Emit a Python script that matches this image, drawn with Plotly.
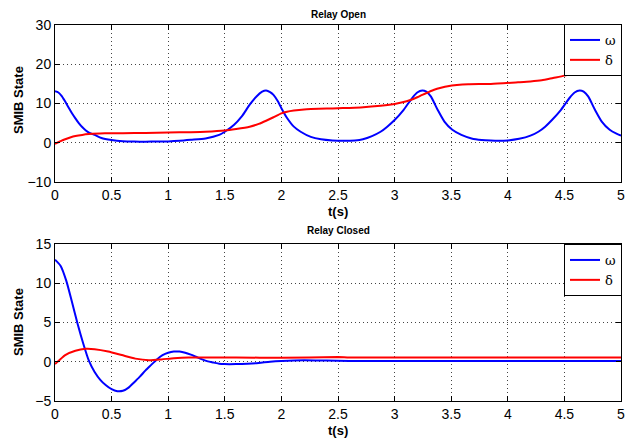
import plotly.graph_objects as go

# ---------------- data ----------------
# Relay Open : omega
t_open_w = [0, 0.03, 0.06, 0.09, 0.12, 0.15, 0.18, 0.21, 0.24, 0.27, 0.3, 0.35, 0.41, 0.5, 0.6, 0.7,
            0.8, 0.9, 1.0, 1.1, 1.2, 1.33, 1.45, 1.5, 1.58, 1.65, 1.72, 1.78, 1.83, 1.865, 1.9, 1.93,
            1.97, 2.0, 2.05, 2.11, 2.17, 2.26, 2.35, 2.45, 2.55, 2.65, 2.72, 2.8, 2.876, 2.935, 3.0,
            3.08, 3.155, 3.2, 3.245, 3.28, 3.32, 3.38, 3.44, 3.51, 3.59, 3.68, 3.77, 3.85, 3.92, 4.0,
            4.1, 4.2, 4.27, 4.33, 4.39, 4.47, 4.545, 4.59, 4.635, 4.67, 4.71, 4.77, 4.83, 4.9, 4.96, 5.0]
w_open = [13.1, 12.8, 11.9, 10.5, 9.0, 7.5, 6.2, 5.0, 4.0, 3.2, 2.6, 2.0, 1.2, 0.7, 0.4, 0.3,
          0.28, 0.3, 0.35, 0.5, 0.75, 1.1, 2.0, 2.8, 4.5, 6.7, 9.7, 11.8, 13.0, 13.3, 12.9, 12.2,
          10.5, 8.8, 6.3, 4.1, 2.8, 1.5, 0.9, 0.6, 0.5, 0.6, 0.9, 1.7, 2.8, 4.1, 5.8,
          8.4, 11.4, 12.8, 13.3, 13.0, 11.8, 8.4, 5.4, 3.3, 2.0, 1.1, 0.7, 0.55, 0.5, 0.6,
          1.0, 1.8, 2.8, 4.1, 5.8, 8.4, 11.4, 12.8, 13.3, 13.0, 11.8, 8.4, 5.4, 3.3, 2.3, 1.8]

# Relay Open : delta
t_open_d = [0, 0.05, 0.09, 0.14, 0.18, 0.24, 0.3, 0.44, 0.6, 0.8, 1.0, 1.2, 1.33, 1.5, 1.6, 1.72,
            1.8, 1.865, 1.93, 2.0, 2.05, 2.11, 2.2, 2.26, 2.4, 2.5, 2.7, 2.876, 3.0, 3.07, 3.14,
            3.2, 3.245, 3.3, 3.35, 3.41, 3.47, 3.55, 3.65, 3.85, 4.09, 4.2, 4.3, 4.4, 4.5, 4.6,
            4.65, 4.7, 4.75, 4.8, 4.9, 5.0]
d_open = [-0.3, 0.4, 0.9, 1.4, 1.7, 2.0, 2.2, 2.4, 2.45, 2.5, 2.6, 2.7, 2.8, 3.1, 3.5, 4.1,
          4.8, 5.6, 6.5, 7.5, 7.9, 8.2, 8.5, 8.6, 8.7, 8.8, 9.0, 9.4, 9.9, 10.3, 10.9,
          11.6, 12.2, 12.9, 13.5, 14.0, 14.4, 14.7, 14.9, 15.0, 15.4, 15.6, 15.9, 16.5, 17.1, 17.9,
          18.6, 19.3, 20.0, 20.7, 22.0, 23.3]

# Relay Closed : omega
t_closed_w = [0, 0.05, 0.1, 0.15, 0.2, 0.25, 0.3, 0.35, 0.4, 0.45, 0.5, 0.55, 0.6, 0.65, 0.7, 0.75,
              0.8, 0.85, 0.9, 0.95, 1.0, 1.05, 1.1, 1.15, 1.2, 1.25, 1.3, 1.35, 1.4, 1.45, 1.5, 1.6,
              1.7, 1.8, 1.9, 2.0, 2.2, 2.4, 2.6, 2.8, 3.0, 3.5, 4.0, 4.5, 5.0]
w_closed = [13.0, 12.2, 10.3, 7.6, 4.8, 2.3, 0.1, -1.3, -2.3, -3.0, -3.5, -3.75, -3.7, -3.3, -2.6, -1.9,
            -1.1, -0.4, 0.3, 0.85, 1.15, 1.3, 1.3, 1.15, 0.9, 0.6, 0.3, 0.05, -0.1, -0.25, -0.3, -0.3,
            -0.25, -0.15, 0.0, 0.1, 0.2, 0.15, 0.1, 0.1, 0.1, 0.1, 0.1, 0.1, 0.1]

# Relay Closed : delta
t_closed_d = [0, 0.05, 0.09, 0.18, 0.27, 0.35, 0.47, 0.59, 0.71, 0.83, 0.94, 1.05, 1.18, 1.4, 1.6,
              2.0, 2.5, 2.6, 3.0, 4.0, 5.0]
d_closed = [-0.3, 0.35, 0.85, 1.4, 1.65, 1.6, 1.3, 0.85, 0.4, 0.2, 0.3, 0.45, 0.55, 0.55, 0.55,
            0.5, 0.6, 0.55, 0.55, 0.55, 0.55]

x_ticks = [0, 0.5, 1, 1.5, 2, 2.5, 3, 3.5, 4, 4.5, 5]
x_tick_text = ["0", "0.5", "1", "1.5", "2", "2.5", "3", "3.5", "4", "4.5", "5"]
y_ticks_open = [-10, 0, 10, 20, 30]
y_ticks_closed = [-5, 0, 5, 10, 15]

BLUE = "#0000FF"
RED = "#FF0000"
FONT = "Liberation Sans, Arial, Helvetica, sans-serif"

# the page body has an 8px default margin; size the figure so the page is 641x443
OFF = 8
W, H = 641 - OFF, 443 - OFF
px_l, px_r = 55, 621
top_t, top_b = 25, 182
bot_t, bot_b = 244, 401


def fx(p):
    return (p - OFF) / W


def fy(p):
    return 1 - (p - OFF) / H


fig = go.Figure()
fig.add_trace(go.Scatter(x=t_open_w, y=w_open, mode="lines", name="ω",
                         line=dict(color=BLUE, width=2, shape="spline", smoothing=0.6),
                         xaxis="x", yaxis="y", legend="legend"))
fig.add_trace(go.Scatter(x=t_open_d, y=d_open, mode="lines", name="δ",
                         line=dict(color=RED, width=2, shape="spline", smoothing=0.6),
                         xaxis="x", yaxis="y", legend="legend"))
fig.add_trace(go.Scatter(x=t_closed_w, y=w_closed, mode="lines", name="ω",
                         line=dict(color=BLUE, width=2, shape="spline", smoothing=0.6),
                         xaxis="x2", yaxis="y2", legend="legend2"))
fig.add_trace(go.Scatter(x=t_closed_d, y=d_closed, mode="lines", name="δ",
                         line=dict(color=RED, width=2, shape="spline", smoothing=0.6),
                         xaxis="x2", yaxis="y2", legend="legend2"))

axis_common = dict(
    showline=True, linecolor="black", linewidth=1, mirror="ticks",
    ticks="inside", ticklen=5, tickcolor="black",
    showgrid=True, gridcolor="#444444", griddash="1px,3px", gridwidth=1,
    zeroline=False, tickfont=dict(family=FONT, size=14, color="black"),
)

legend_common = dict(
    xanchor="right", yanchor="top",
    bgcolor="white", bordercolor="black", borderwidth=1,
    font=dict(family="DejaVu Serif, serif", size=13, color="black"),
    itemwidth=30, tracegroupgap=0,
)

fig.update_layout(
    width=W, height=H,
    margin=dict(l=0, r=0, t=0, b=0, autoexpand=False),
    paper_bgcolor="white", plot_bgcolor="white",
    xaxis=dict(domain=[fx(px_l), fx(px_r)], range=[0, 5], anchor="y",
               tickvals=x_ticks, ticktext=x_tick_text, **axis_common),
    yaxis=dict(domain=[fy(top_b), fy(top_t)], range=[-10, 30], anchor="x",
               tickvals=y_ticks_open, **axis_common),
    xaxis2=dict(domain=[fx(px_l), fx(px_r)], range=[0, 5], anchor="y2",
                tickvals=x_ticks, ticktext=x_tick_text, **axis_common),
    yaxis2=dict(domain=[fy(bot_b), fy(bot_t)], range=[-5, 15], anchor="x2",
                tickvals=y_ticks_closed, **axis_common),
    legend=dict(x=fx(622), y=fy(24), **legend_common),
    legend2=dict(x=fx(622), y=fy(244), **legend_common),
    showlegend=True,
)

ann_font_title = dict(family=FONT, size=10, color="black")
ann_font_lbl = dict(family=FONT, size=13, color="black")
annotations = [
    dict(text="<b>Relay Open</b>", x=fx(338), y=fy(14), font=ann_font_title),
    dict(text="<b>Relay Closed</b>", x=fx(338), y=fy(231), font=ann_font_title),
    dict(text="<b>t(s)</b>", x=fx(338), y=fy(211), font=ann_font_lbl),
    dict(text="<b>t(s)</b>", x=fx(338), y=fy(430), font=ann_font_lbl),
    dict(text="<b>SMIB State</b>", x=fx(18), y=fy(100), font=ann_font_lbl, textangle=-90),
    dict(text="<b>SMIB State</b>", x=fx(18), y=fy(322), font=ann_font_lbl, textangle=-90),
]
for a in annotations:
    a.update(xref="paper", yref="paper", showarrow=False, xanchor="center", yanchor="middle")
fig.update_layout(annotations=annotations)

fig.write_html("out.html")
